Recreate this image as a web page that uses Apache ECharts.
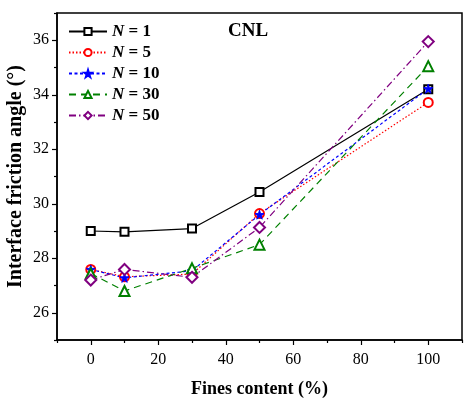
<!DOCTYPE html>
<html>
	<head>
		<meta charset="utf-8" />
		<title>CNL</title>
		<style type="text/css">
			body,
			html,
			#chart {
				width: 100%;
				height: 100%;
				overflow: hidden;
				margin: 0;
				background: #fff;
			}
		</style>
	</head>
	<body>
		<div id="chart"></div>
		<script src="https://cdn.jsdelivr.net/npm/echarts@6/dist/echarts.min.js"></script>
		<script>
			// 数据
			var finesContent = [0, 10, 30, 50, 100];
			var seriesNames = ['1', '5', '10', '30', '50'];
			var n1 = [29.0, 28.97, 29.09, 30.43, 34.2];
			var n5 = [27.59, 27.32, 27.42, 29.64, 33.72];
			var n10 = [27.59, 27.28, 27.54, 29.6, 34.22];
			var n30 = [27.44, 26.8, 27.63, 28.5, 35.05];
			var n50 = [27.2, 27.59, 27.3, 29.13, 35.95];
			var xMajor = [0, 20, 40, 60, 80, 100];
			var xMinor = [-10, 10, 30, 50, 70, 90, 110];
			var yMajor = [26, 28, 30, 32, 34, 36];
			var yMinor = [25, 27, 29, 31, 33, 35, 37];

			var font = 'Liberation Serif';
			var star = 'path://M50,0 L61,35 L98,35 L68,57 L79,91 L50,70 L21,91 L32,57 L2,35 L39,35 Z';

			function pairs(vals) {
				return finesContent.map(function (x, i) {
					return [x, vals[i]];
				});
			}

			var styles = [
				{ data: n1, color: '#000000', type: 'solid', symbol: 'emptyRect', size: 8 },
				{ data: n5, color: '#ff0000', type: [1.5, 2], symbol: 'emptyCircle', size: 9 },
				{ data: n10, color: '#0000ff', type: [3, 2.5], symbol: star, size: 9 },
				{ data: n30, color: '#008000', type: [7, 5], symbol: 'emptyTriangle', size: 10 },
				{ data: n50, color: '#800080', type: [7, 3, 1.5, 3], symbol: 'emptyDiamond', size: 11 }
			];

			var series = styles.map(function (s, i) {
				return {
					name: seriesNames[i],
					type: 'line',
					data: pairs(s.data),
					symbol: s.symbol,
					symbolSize: s.size,
					lineStyle: { color: s.color, width: 1.2, type: s.type },
					itemStyle: { color: s.color, borderColor: s.color, borderWidth: 1 }
				};
			});

			var chart = echarts.init(document.getElementById('chart'));
			var option = {
				backgroundColor: '#fff',
				animation: false,
				grid: {
					left: 57,
					right: 10,
					top: 13,
					bottom: 60,
					outerBoundsMode: 'none',
					show: true,
					borderColor: '#000',
					borderWidth: 1.5
				},
				title: {
					text: 'CNL',
					left: 223,
					top: 17,
					textStyle: { fontFamily: font, fontSize: 19, fontWeight: 'bold', color: '#000' }
				},
				legend: {
					orient: 'vertical',
					left: 63,
					top: 18,
					itemWidth: 38,
					itemHeight: 9,
					itemGap: 4,
					formatter: function (name) {
						return '{i|N} = ' + name;
					},
					textStyle: {
						fontFamily: font,
						fontSize: 17,
						fontWeight: 'bold',
						color: '#000',
						rich: {
							i: { fontFamily: font, fontSize: 17, fontWeight: 'bold', fontStyle: 'italic', color: '#000' }
						}
					}
				},
				xAxis: [
					{
						type: 'value',
						min: -10,
						max: 110,
						position: 'bottom',
						name: 'Fines content (%)',
						nameLocation: 'middle',
						nameGap: 40,
						nameMoveOverlap: false,
						nameTextStyle: { fontFamily: font, fontSize: 18, fontWeight: 'bold', color: '#000' },
						axisLine: { show: true, onZero: false, lineStyle: { color: '#000', width: 1.5 } },
						axisTick: { show: true, customValues: xMajor, length: 5, lineStyle: { color: '#000', width: 1.2 } },
						axisLabel: { customValues: xMajor, fontFamily: font, fontSize: 16, color: '#000', margin: 12 },
						splitLine: { show: false }
					},
					{
						type: 'value',
						min: -10,
						max: 110,
						position: 'bottom',
						axisLine: { show: false, onZero: false },
						axisTick: { show: true, customValues: xMinor, length: 3, lineStyle: { color: '#000', width: 1.2 } },
						axisLabel: { show: false },
						splitLine: { show: false }
					}
				],
				yAxis: [
					{
						type: 'value',
						min: 25,
						max: 37,
						position: 'left',
						name: 'Interface friction angle (°)',
						nameLocation: 'middle',
						nameGap: 31,
						nameMoveOverlap: false,
						nameTextStyle: { fontFamily: font, fontSize: 20, fontWeight: 'bold', color: '#000' },
						axisLine: { show: true, onZero: false, lineStyle: { color: '#000', width: 1.5 } },
						axisTick: { show: true, customValues: yMajor, length: 5, lineStyle: { color: '#000', width: 1.2 } },
						axisLabel: { customValues: yMajor, fontFamily: font, fontSize: 16, color: '#000', margin: 8 },
						splitLine: { show: false }
					},
					{
						type: 'value',
						min: 25,
						max: 37,
						position: 'left',
						axisLine: { show: false, onZero: false },
						axisTick: { show: true, customValues: yMinor, length: 3, lineStyle: { color: '#000', width: 1.2 } },
						axisLabel: { show: false },
						splitLine: { show: false }
					}
				],
				series: series
			};
			chart.setOption(option);
		</script>
	</body>
</html>
